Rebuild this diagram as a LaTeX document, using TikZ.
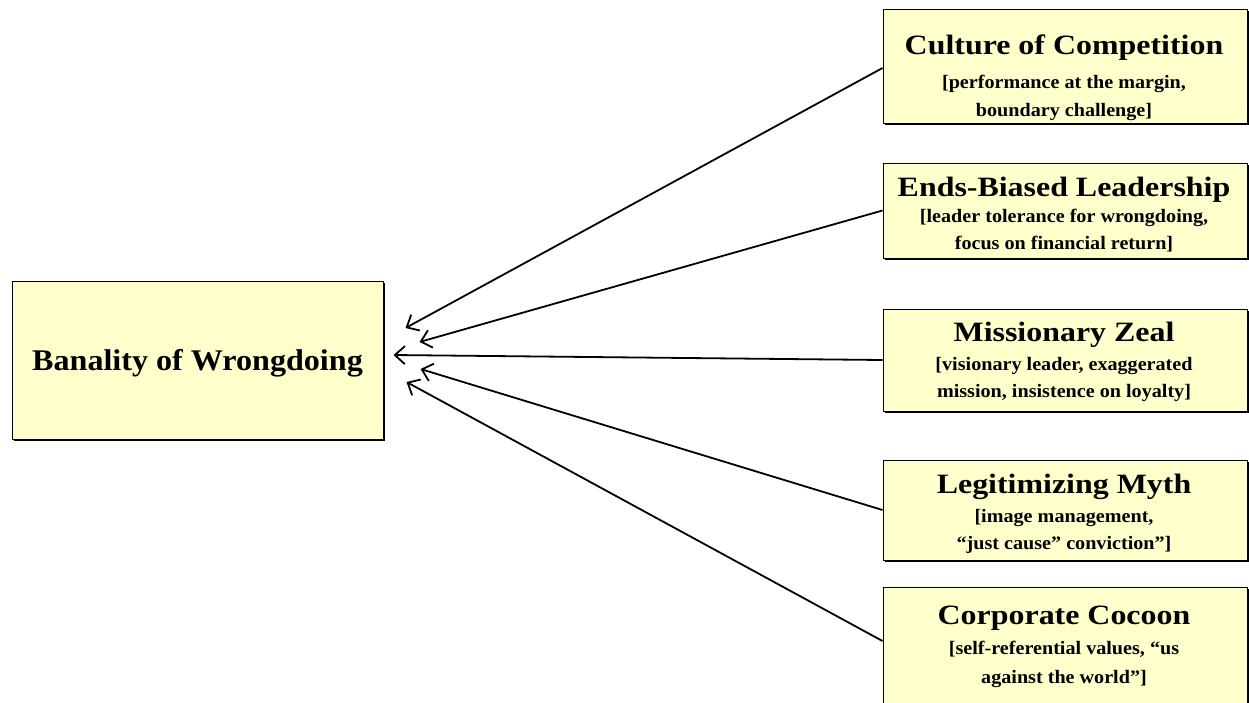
\documentclass[tikz,border=0pt]{standalone}
\usepackage{fontspec}
\setmainfont{Liberation Serif}
\newfontfamily\ttlfont[FakeStretch=1.14,Ligatures=TeX]{Liberation Serif}
\newfontfamily\subfont[FakeStretch=1.06,Ligatures=TeX]{Liberation Serif}
\newfontfamily\banfont[FakeStretch=1.07,Ligatures=TeX]{Liberation Serif}
\usetikzlibrary{arrows.meta,shadows}
\definecolor{boxfill}{HTML}{FFFFCC}
\tikzset{
  box/.style={draw=black, line width=1pt, fill=boxfill, inner sep=0pt,
    drop shadow={shadow xshift=2pt, shadow yshift=-2pt, fill=black, opacity=1}},
  ttl/.style={anchor=base, inner sep=0pt, font=\ttlfont\bfseries\fontsize{28}{32}\selectfont},
  sub/.style={anchor=base, inner sep=0pt, font=\subfont\bfseries\fontsize{19}{23}\selectfont},
  conn/.style={line width=1.8pt, -{Straight Barb[length=10pt,width=18pt,line width=1.8pt]}},
}
\begin{document}
\begin{tikzpicture}[x=1pt,y=-1pt]
\useasboundingbox (0,0) rectangle (1249,702);
\clip (0,0) rectangle (1249,702);
\fill[white] (0,0) rectangle (1249,702);

\node[box, minimum width=371pt, minimum height=158pt] (ban) at (197.5,360) {};
\node[anchor=base, inner sep=0pt, font=\banfont\bfseries\fontsize{30}{34}\selectfont] (bant) at (197.5,370) {Banality of Wrongdoing};

\node[box, minimum width=364pt, minimum height=114pt] (b1) at (1065,66) {};
\node[box, minimum width=364pt, minimum height=95pt] (b2) at (1065,210.5) {};
\node[box, minimum width=364pt, minimum height=102pt] (b3) at (1065,360) {};
\node[box, minimum width=364pt, minimum height=100pt] (b4) at (1065,510) {};
\node[box, minimum width=364pt, minimum height=140pt] (b5) at (1065,657) {};

\node[ttl] (t1) at (1064,54) {Culture of Competition};
\node[sub] (s1a) at (1064,88) {[performance at the margin,};
\node[sub] (s1b) at (1064,116) {boundary challenge]};

\node[ttl] (t2) at (1064,196) {Ends-Biased Leadership};
\node[sub] (s2a) at (1064,222) {[leader tolerance for wrongdoing,};
\node[sub] (s2b) at (1064,249) {focus on financial return]};

\node[ttl] (t3) at (1064,341) {Missionary Zeal};
\node[sub] (s3a) at (1064,370) {[visionary leader, exaggerated};
\node[sub] (s3b) at (1064,397) {mission, insistence on loyalty]};

\node[ttl] (t4) at (1064,493) {Legitimizing Myth};
\node[sub] (s4a) at (1064,522) {[image management,};
\node[sub] (s4b) at (1064,549) {“just cause” conviction”]};

\node[ttl] (t5) at (1064,624) {Corporate Cocoon};
\node[sub] (s5a) at (1064,654) {[self-referential values, “us};
\node[sub] (s5b) at (1064,683) {against the world”]};

\coordinate (e1) at ([xshift=22pt,yshift=32pt]ban.east);
\coordinate (e2) at ([xshift=36pt,yshift=18pt]ban.east);
\coordinate (e3) at ([xshift=10pt,yshift=5pt]ban.east);
\coordinate (e4) at ([xshift=37pt,yshift=-9pt]ban.east);
\coordinate (e5) at ([xshift=23pt,yshift=-22pt]ban.east);

\draw[conn] ([yshift=-2pt]b1.west) -- (e1);
\draw[conn] (b2.west) -- (e2);
\draw[conn] (b3.west) -- (e3);
\draw[conn] (b4.west) -- (e4);
\draw[conn] (b5.west |- 0,641) -- (e5);
\end{tikzpicture}
\end{document}
